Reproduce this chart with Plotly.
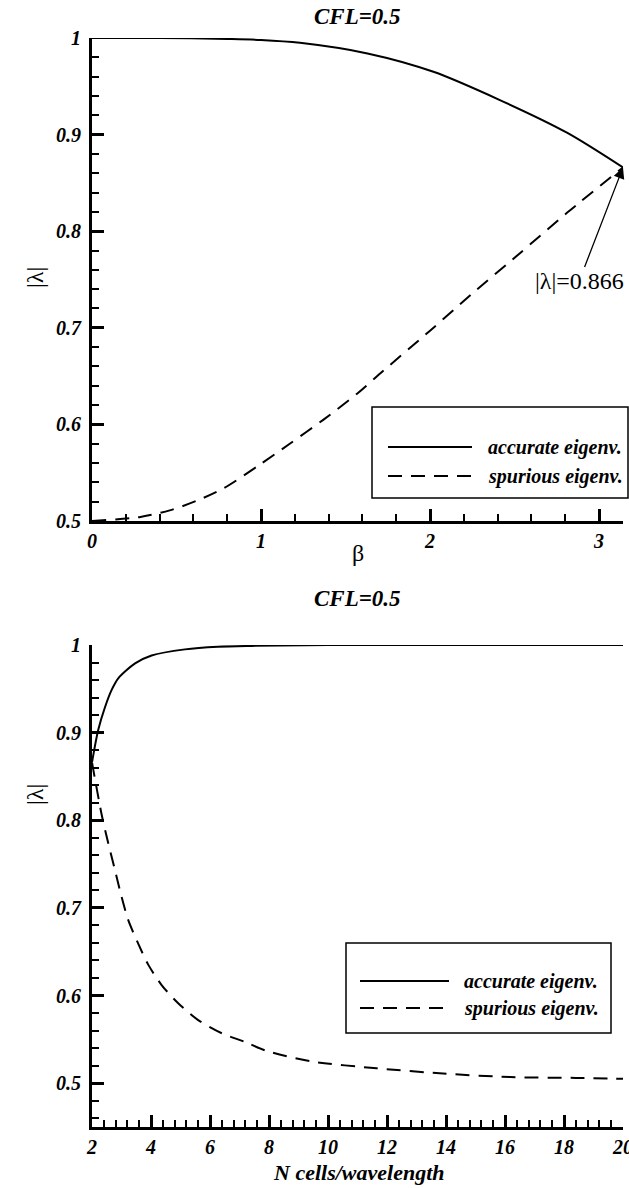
import math
import plotly.graph_objects as go
from plotly.subplots import make_subplots

# ---- data: amplification factor |lambda| for CFL = 0.5 ----
# top panel: versus phase angle beta
beta_acc = [0.0, 0.4, 0.8, 1.0, 1.23, 1.63, 2.02, 2.41, 2.81, math.pi]
lam_acc_beta = [1.0, 1.0, 0.999, 0.998, 0.995, 0.984, 0.965, 0.936, 0.902, 0.866]

beta_spu = [0.0, 0.28, 0.46, 0.62, 0.78, 0.99, 1.17, 1.37, 1.57, 1.72,
            2.0, 2.24, 2.53, 2.81, math.pi]
lam_spu_beta = [0.5, 0.504, 0.511, 0.521, 0.534, 0.558, 0.580, 0.605, 0.632, 0.655,
                0.697, 0.734, 0.777, 0.819, 0.866]

# bottom panel: versus number of cells per wavelength
n_acc = [2.0, 2.21, 2.44, 2.67, 2.89, 3.46, 4.02, 5.15, 6.27, 7.4, 10.0, 20.0]
lam_acc_n = [0.866, 0.903, 0.929, 0.949, 0.962, 0.979, 0.988, 0.995, 0.998, 0.999, 1.0, 1.0]

n_spu = [2.0, 2.33, 2.55, 2.78, 3.0, 3.23, 3.57, 3.91, 4.36, 4.93, 5.6, 6.4,
         7.19, 7.9, 9.4, 11.65, 13.9, 16.17, 18.4, 20.0]
lam_spu_n = [0.866, 0.806, 0.774, 0.743, 0.713, 0.686, 0.659, 0.635, 0.612, 0.591,
             0.572, 0.557, 0.547, 0.537, 0.525, 0.517, 0.511, 0.507, 0.506, 0.505]

series_names = ["accurate eigenv.", "spurious eigenv."]
panel_title = "CFL=0.5"
marked_value = 0.866

W, H = 629, 1188
SERIF = "Liberation Serif"


def px(x):
    return x / W


def py(y):
    return 1 - y / H


fig = make_subplots(rows=2, cols=1)

solid = dict(color="black", width=2)
dashed = dict(color="black", width=2, dash="14px,9px")

fig.add_trace(go.Scatter(x=beta_acc, y=lam_acc_beta, mode="lines", line=dict(solid, shape="spline", smoothing=0.8),
                         name=series_names[0], showlegend=False), row=1, col=1)
fig.add_trace(go.Scatter(x=beta_spu, y=lam_spu_beta, mode="lines", line=dict(dashed, shape="spline", smoothing=0.8),
                         name=series_names[1], showlegend=False), row=1, col=1)
fig.add_trace(go.Scatter(x=n_acc, y=lam_acc_n, mode="lines", line=dict(solid, shape="spline", smoothing=0.8),
                         name=series_names[0], showlegend=False), row=2, col=1)
fig.add_trace(go.Scatter(x=n_spu, y=lam_spu_n, mode="lines", line=dict(dashed, shape="spline", smoothing=0.8),
                         name=series_names[1], showlegend=False), row=2, col=1)

tick_font = dict(family=SERIF, size=20, color="black", weight="bold", style="italic")

axis_common = dict(
    showline=True, linewidth=3, linecolor="black", mirror=False,
    showgrid=False, zeroline=False,
    ticks="inside", ticklen=12, tickwidth=3, tickcolor="black",
    tickfont=tick_font, automargin=False, ticklabeloverflow="allow",
)
minor_common = dict(ticks="inside", ticklen=7, tickwidth=1.5, tickcolor="black", showgrid=False)

fig.update_xaxes(axis_common, row=1, col=1, range=[0, math.pi], tick0=0, dtick=1,
                 minor=dict(minor_common, dtick=0.2, tick0=0),
                 domain=[px(92), px(623)])
fig.update_yaxes(axis_common, row=1, col=1, range=[0.5, 1.0], tick0=0.5, dtick=0.1,
                 minor=dict(minor_common, dtick=0.02, tick0=0.5),
                 domain=[py(521), py(38)], ticklabelstandoff=4)
fig.update_xaxes(axis_common, row=2, col=1, range=[2, 20], tick0=2, dtick=2,
                 minor=dict(minor_common, dtick=0.4, tick0=2),
                 domain=[px(92), px(623)])
fig.update_yaxes(axis_common, row=2, col=1, range=[0.45, 1.0], tick0=0.5, dtick=0.1,
                 minor=dict(minor_common, dtick=0.02, tick0=0.5),
                 domain=[py(1127), py(645)], ticklabelstandoff=4)

annotations = []
title_font = dict(family=SERIF, size=23, color="black", weight="bold", style="italic")
plain_font = dict(family=SERIF, size=24, color="black")

# panel titles
for yc in (16, 598):
    annotations.append(dict(text=panel_title, x=px(357), y=py(yc), xref="paper", yref="paper",
                            showarrow=False, font=title_font, xanchor="center", yanchor="middle"))

# axis titles
annotations.append(dict(text="|λ|", x=px(35), y=py(278), xref="paper", yref="paper", textangle=-90,
                        showarrow=False, font=plain_font, xanchor="center", yanchor="middle"))
annotations.append(dict(text="|λ|", x=px(35), y=py(795), xref="paper", yref="paper", textangle=-90,
                        showarrow=False, font=plain_font, xanchor="center", yanchor="middle"))
annotations.append(dict(text="β", x=px(358), y=py(553), xref="paper", yref="paper",
                        showarrow=False, font=plain_font, xanchor="center", yanchor="middle"))
annotations.append(dict(text="N cells/wavelength", x=px(358), y=py(1172), xref="paper", yref="paper",
                        showarrow=False, font=dict(title_font, size=22), xanchor="center", yanchor="middle"))

# arrow to the end point where both eigenvalues coincide
annotations.append(dict(text=f"|λ|={marked_value}", x=math.pi, y=marked_value, xref="x", yref="y",
                        showarrow=True, arrowhead=2, arrowsize=1.7, arrowwidth=1.3, arrowcolor="black",
                        ax=-44, ay=114, font=dict(family=SERIF, size=24, color="black")))

# legend boxes drawn in paper space
shapes = []
legend_font = dict(family=SERIF, size=20, color="black", weight="bold", style="italic")
legend_boxes = [
    dict(box=(372, 407, 628, 498), rows=(447, 476), line=(388, 472), text_x=486),
    dict(box=(346, 943, 611, 1033), rows=(981, 1008), line=(360, 449), text_x=462),
]
for lg in legend_boxes:
    x0, y0, x1, y1 = lg["box"]
    shapes.append(dict(type="rect", xref="paper", yref="paper", x0=px(x0), x1=px(x1), y0=py(y1), y1=py(y0),
                       line=dict(color="black", width=1.5), fillcolor="white", layer="above"))
    for name, yr, style in zip(series_names, lg["rows"], (solid, dashed)):
        shapes.append(dict(type="line", xref="paper", yref="paper", x0=px(lg["line"][0]), x1=px(lg["line"][1]),
                           y0=py(yr), y1=py(yr), line=style, layer="above"))
        annotations.append(dict(text=name, x=px(lg["text_x"]), y=py(yr), xref="paper", yref="paper",
                                showarrow=False, font=legend_font, xanchor="left", yanchor="middle"))

fig.update_layout(
    width=W, height=H,
    margin=dict(l=0, r=0, t=0, b=0),
    paper_bgcolor="white", plot_bgcolor="white",
    showlegend=False,
    annotations=annotations,
    shapes=shapes,
)

fig.write_html("out.html")
